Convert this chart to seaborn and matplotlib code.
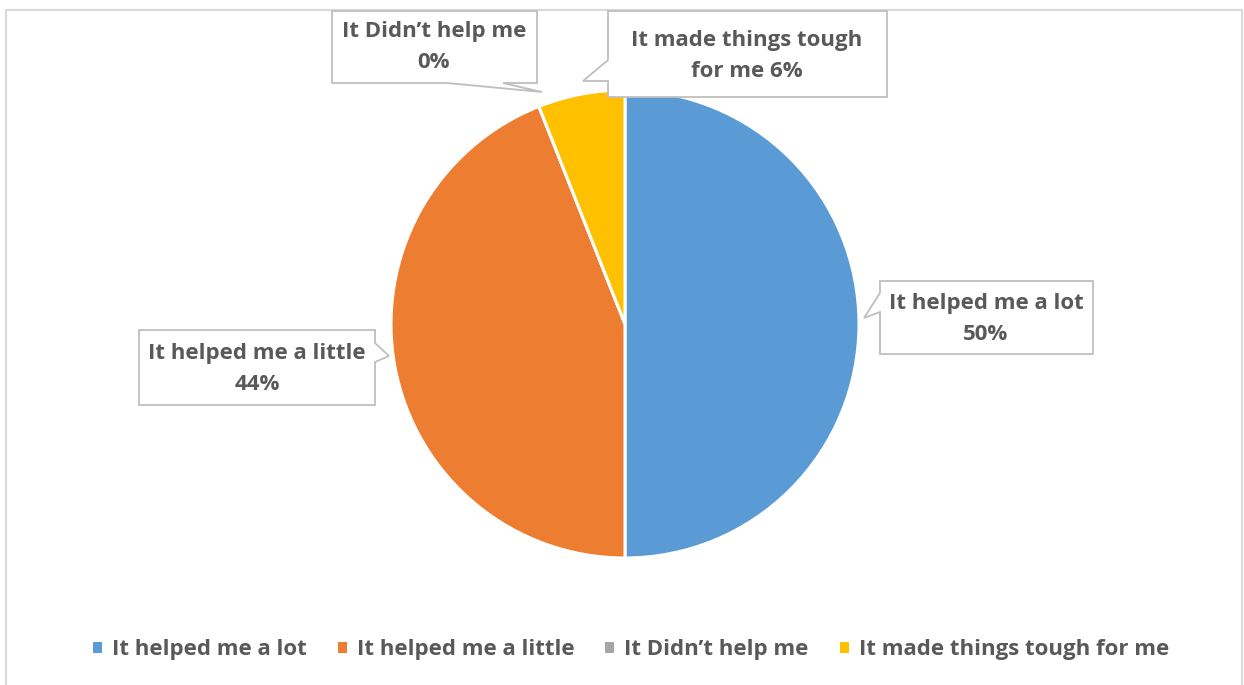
import matplotlib
matplotlib.use("Agg")
import matplotlib.pyplot as plt
from matplotlib.patches import Polygon, Rectangle, Patch
import seaborn as sns

# Survey responses (share of respondents, %)
categories = ["It helped me a lot", "It helped me a little",
              "It Didn\u2019t help me", "It made things tough for me"]
shares = [50, 44, 0, 6]
label_templates = ["It helped me a lot\n{}%", "It helped me a little\n{}%",
                   "It Didn\u2019t help me\n{}%", "It made things tough\nfor me {}%"]
colors = sns.color_palette(["#5B9BD5", "#ED7D31", "#A5A5A5", "#FFC000"])

sns.set_theme(style="white")
plt.rcParams["font.family"] = ["Open Sans", "DejaVu Sans"]

W, H = 1244, 685
TEXT = "#595959"
EDGE = "#BFBFBF"
FS = 16

fig = plt.figure(figsize=(W / 100, H / 100), dpi=100)
ax = fig.add_axes([0, 0, 1, 1])


def Y(p):
    # pixel row (from top) -> axes y
    return H - p


wedges, _ = ax.pie(shares, colors=colors, startangle=90, counterclock=False,
                   center=(625, Y(324)), radius=234,
                   wedgeprops=dict(edgecolor="white", linewidth=2.2))
ax.set_xlim(0, W)
ax.set_ylim(0, H)
ax.set_aspect("equal")
ax.axis("off")

# chart frame
ax.add_patch(Rectangle((6, Y(H + 20)), W - 2 - 6, H + 20 - 10, fill=False,
                       edgecolor="#D9D9D9", linewidth=1.5, clip_on=False, zorder=0))

# callout outlines (box with pointer), pixel coords from top-left
callouts = [
    [(880, 281), (1093, 281), (1093, 354), (880, 354), (880, 312), (864, 318), (880, 293)],
    [(139, 330), (375, 330), (375, 343), (389, 356), (375, 362), (375, 405), (139, 405)],
    [(332, 11), (537, 11), (537, 83), (503, 83), (542, 92), (447, 83), (332, 83)],
    [(608, 11), (887, 11), (887, 97), (608, 97), (608, 81), (583, 81), (608, 60)],
]
text_centers = [(986, 319), (257, 369), (434, 47), (747, 56)]

for pts, (tx, ty), tmpl, v in zip(callouts, text_centers, label_templates, shares):
    ax.add_patch(Polygon([(x, Y(y)) for x, y in pts], closed=True,
                         facecolor="white", edgecolor=EDGE, linewidth=1.3, zorder=5))
    ax.text(tx, Y(ty), tmpl.format(v), ha="center", va="center",
            multialignment="center", fontsize=FS, fontweight="bold",
            color=TEXT, linespacing=1.6, zorder=6)

handles = [Patch(facecolor=c, edgecolor="none") for c in colors]
fig.legend(handles, categories, loc="center", bbox_to_anchor=(631 / W, 1 - 650 / H),
           ncol=4, frameon=False, handlelength=0.4, handleheight=0.4,
           handletextpad=0.45, columnspacing=1.4,
           prop=dict(weight="bold", size=FS))
for t in fig.legends[0].get_texts():
    t.set_color(TEXT)

fig.savefig("out.png", dpi=100, facecolor="white")
